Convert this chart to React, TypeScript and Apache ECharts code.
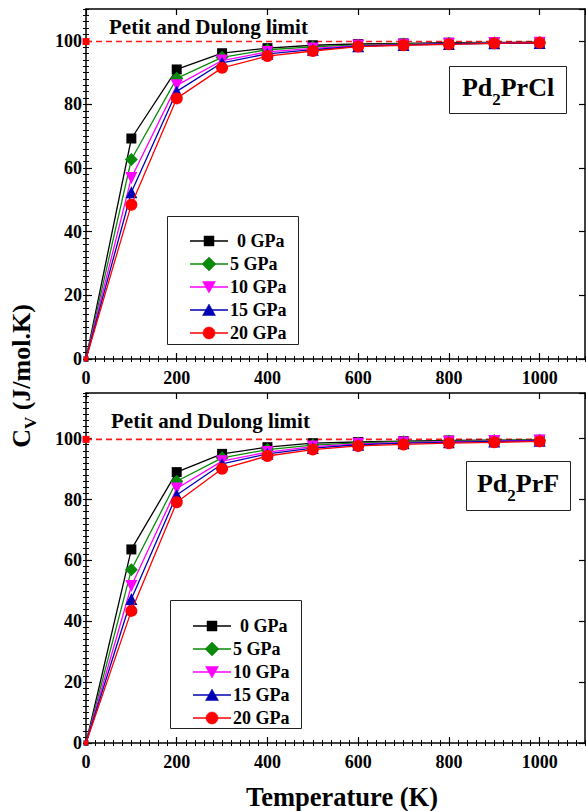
import React, { useEffect, useRef } from 'react';
import * as echarts from 'echarts';

// Temperatures (K)
const temperatures = [0, 100, 200, 300, 400, 500, 600, 700, 800, 900, 1000];
const pressures = ['0 GPa', '5 GPa', '10 GPa', '15 GPa', '20 GPa'];

// Pd2PrCl heat capacity Cv (J/mol.K)
const clP0 = [0, 69.3, 91.0, 96.1, 97.7, 98.6, 99.0, 99.2, 99.4, 99.5, 99.6];
const clP5 = [0, 62.7, 88.2, 94.8, 97.2, 98.1, 98.7, 99.0, 99.2, 99.4, 99.5];
const clP10 = [0, 56.9, 86.0, 93.8, 96.5, 97.6, 98.5, 98.8, 99.1, 99.3, 99.4];
const clP15 = [0, 52.4, 84.1, 93.1, 95.9, 97.2, 98.3, 98.7, 99.0, 99.2, 99.3];
const clP20 = [0, 48.5, 81.9, 91.5, 95.2, 96.8, 98.2, 98.6, 98.9, 99.2, 99.4];

// Pd2PrF heat capacity Cv (J/mol.K)
const fP0 = [0, 63.6, 89.0, 95.0, 97.2, 98.5, 98.9, 99.2, 99.4, 99.5, 99.6];
const fP5 = [0, 56.9, 86.0, 93.7, 96.4, 97.9, 98.6, 99.0, 99.2, 99.4, 99.5];
const fP10 = [0, 51.6, 83.6, 92.6, 95.6, 97.4, 98.3, 98.7, 99.0, 99.2, 99.4];
const fP15 = [0, 47.3, 81.5, 91.7, 95.0, 96.9, 98.0, 98.5, 98.8, 99.1, 99.3];
const fP20 = [0, 43.4, 79.1, 90.1, 94.3, 96.4, 97.6, 98.1, 98.5, 98.8, 99.1];

// Petit and Dulong limit (3nR)
const dulongPetit = 99.77;
const limitRange = [0, 1000];

const colors = ['#000000', '#0a8a0a', '#ff00ff', '#0000b4', '#ff0000'];
const symbols = ['rect', 'diamond', 'triangle', 'triangle', 'circle'];
const symbolRotates = [0, 0, 180, 0, 0];
const symbolSizes = [10, 13, 12, 12, 12];

const FONT = 'Liberation Serif';

function legendMarker(i: number, cx: number, cy: number): any {
  const c = colors[i];
  const st = { fill: c, stroke: c, lineWidth: 0.5 };
  if (i === 0) return { type: 'rect', shape: { x: cx - 5, y: cy - 5, width: 10, height: 10 }, style: st, z: 21 };
  if (i === 1)
    return {
      type: 'polygon',
      shape: { points: [[cx, cy - 7], [cx + 7, cy], [cx, cy + 7], [cx - 7, cy]] },
      style: st,
      z: 21,
    };
  if (i === 2)
    return {
      type: 'polygon',
      shape: { points: [[cx - 6.5, cy - 5.5], [cx + 6.5, cy - 5.5], [cx, cy + 6]] },
      style: st,
      z: 21,
    };
  if (i === 3)
    return {
      type: 'polygon',
      shape: { points: [[cx - 6.5, cy + 5.5], [cx + 6.5, cy + 5.5], [cx, cy - 6]] },
      style: st,
      z: 21,
    };
  return { type: 'circle', shape: { cx, cy, r: 6 }, style: st, z: 21 };
}

function buildLegend(box: { x: number; y: number; w: number; h: number }, firstRow: number, pitch: number, lineX: number) {
  const els: any[] = [
    {
      type: 'rect',
      shape: { x: box.x, y: box.y, width: box.w, height: box.h },
      style: { fill: '#fff', stroke: '#222', lineWidth: 1 },
      z: 19,
    },
  ];
  pressures.forEach((name, i) => {
    const cy = firstRow + i * pitch;
    els.push({
      type: 'line',
      shape: { x1: lineX, y1: cy, x2: lineX + 38, y2: cy },
      style: { stroke: colors[i], lineWidth: 1.3 },
      z: 20,
    });
    els.push(legendMarker(i, lineX + 19, cy));
    els.push({
      type: 'text',
      x: lineX + (name.startsWith('0') ? 47 : 40),
      y: cy,
      z: 21,
      style: {
        text: name,
        fontFamily: FONT,
        fontWeight: 'bold',
        fontSize: 18,
        fill: '#000',
        align: 'left',
        verticalAlign: 'middle',
      },
    });
  });
  return els;
}

function App() {
  const ref = useRef<HTMLDivElement>(null);

  useEffect(() => {
    if (!ref.current) return;
    const chart = echarts.init(ref.current, undefined, { renderer: 'svg' });

    const grids = [
      { left: 86, top: 9, width: 499, height: 350 },
      { left: 86, top: 393, width: 499, height: 350 },
    ];

    const xAxes: any[] = [];
    const yAxes: any[] = [];
    const yMaxes = [110, 115];
    grids.forEach((_, g) => {
      const common = {
        type: 'value',
        gridIndex: g,
        splitLine: { show: false },
        axisLine: { show: true, onZero: false, lineStyle: { color: '#000', width: 1.5 } },
      };
      ['bottom', 'top'].forEach((pos) => {
        xAxes.push({
          ...common,
          position: pos,
          min: 0,
          max: 1100,
          interval: 200,
          axisTick: { show: true, inside: true, length: 6, lineStyle: { color: '#000', width: 1.2 } },
          axisLabel: {
            show: pos === 'bottom',
            showMaxLabel: false,
            formatter: (v: number) => String(v),
            color: '#000',
            fontFamily: FONT,
            fontWeight: 'bold',
            fontSize: 18,
            margin: 10,
          },
        });
        xAxes.push({
          ...common,
          position: pos,
          min: 0,
          max: 1100,
          interval: 20,
          axisLine: { show: false },
          axisTick: { show: true, inside: true, length: 3, lineStyle: { color: '#000', width: 1 } },
          axisLabel: { show: false },
        });
      });
      ['left', 'right'].forEach((pos) => {
        yAxes.push({
          ...common,
          position: pos,
          min: 0,
          max: yMaxes[g],
          interval: 20,
          axisTick: { show: true, inside: true, length: 6, lineStyle: { color: '#000', width: 1.2 } },
          axisLabel: {
            show: pos === 'left',
            showMaxLabel: false,
            formatter: (v: number) => String(v),
            color: '#000',
            fontFamily: FONT,
            fontWeight: 'bold',
            fontSize: 18,
            margin: 4,
          },
        });
        yAxes.push({
          ...common,
          position: pos,
          min: 0,
          max: yMaxes[g],
          interval: 2,
          axisLine: { show: false },
          axisTick: { show: true, inside: true, length: 3, lineStyle: { color: '#000', width: 1 } },
          axisLabel: { show: false },
        });
      });
    });

    const datasets = [
      [clP0, clP5, clP10, clP15, clP20],
      [fP0, fP5, fP10, fP15, fP20],
    ];

    const series: any[] = [];
    datasets.forEach((sets, g) => {
      series.push({
        type: 'line',
        name: 'limit' + g,
        xAxisIndex: g * 4,
        yAxisIndex: g * 4,
        data: [
          { value: [limitRange[0], dulongPetit], symbol: 'rect', symbolSize: 7 },
          { value: [limitRange[1], dulongPetit], symbol: 'none' },
        ],
        lineStyle: { color: '#ff1a1a', width: 1.6, type: [6, 4] },
        itemStyle: { color: '#ff0000' },
        z: 1,
      });
      sets.forEach((vals, i) => {
        series.push({
          type: 'line',
          name: pressures[i],
          xAxisIndex: g * 4,
          yAxisIndex: g * 4,
          data: temperatures.map((t, k) =>
            k === 0 ? { value: [t, vals[k]], symbolSize: 5 } : [t, vals[k]]
          ),
          symbol: symbols[i],
          symbolSize: symbolSizes[i],
          symbolRotate: symbolRotates[i],
          lineStyle: { color: colors[i], width: 1.3 },
          itemStyle: { color: colors[i] },
          z: 2 + i,
        });
      });
    });

    const titleStyle = { fontFamily: FONT, fontWeight: 'bold', fill: '#000' };

    chart.setOption({
      animation: false,
      backgroundColor: '#fff',
      grid: grids,
      xAxis: xAxes,
      yAxis: yAxes,
      series,
      graphic: [
        ...buildLegend({ x: 167.5, y: 216.5, w: 131, h: 128 }, 241, 23, 190),
        ...buildLegend({ x: 170.5, y: 600.5, w: 131, h: 128 }, 626, 23, 193),
        {
          type: 'text',
          x: 109,
          y: 27,
          style: { ...titleStyle, text: 'Petit and Dulong limit', fontSize: 21, verticalAlign: 'middle', align: 'left' },
        },
        {
          type: 'text',
          x: 111,
          y: 421,
          style: { ...titleStyle, text: 'Petit and Dulong limit', fontSize: 21, verticalAlign: 'middle', align: 'left' },
        },
        {
          type: 'rect',
          shape: { x: 449.5, y: 66.5, width: 117, height: 47 },
          style: { fill: '#fff', stroke: '#222', lineWidth: 1 },
          z: 10,
        },
        {
          type: 'text',
          x: 508,
          y: 88,
          z: 11,
          style: {
            text: '{a|Pd}{b|2}{a|PrCl}',
            align: 'center',
            verticalAlign: 'middle',
            rich: {
              a: { ...titleStyle, fontSize: 26, lineHeight: 28, verticalAlign: 'top' },
              b: { ...titleStyle, fontSize: 17, lineHeight: 17, verticalAlign: 'top', padding: [17, 0, 0, 0] },
            },
          },
        },
        {
          type: 'rect',
          shape: { x: 466.5, y: 461.5, width: 104, height: 49 },
          style: { fill: '#fff', stroke: '#222', lineWidth: 1 },
          z: 10,
        },
        {
          type: 'text',
          x: 518,
          y: 484,
          z: 11,
          style: {
            text: '{a|Pd}{b|2}{a|PrF}',
            align: 'center',
            verticalAlign: 'middle',
            rich: {
              a: { ...titleStyle, fontSize: 26, lineHeight: 28, verticalAlign: 'top' },
              b: { ...titleStyle, fontSize: 17, lineHeight: 17, verticalAlign: 'top', padding: [17, 0, 0, 0] },
            },
          },
        },
        {
          type: 'text',
          x: 342,
          y: 797,
          style: { ...titleStyle, text: 'Temperature (K)', fontSize: 26.5, align: 'center', verticalAlign: 'middle' },
        },
        {
          type: 'text',
          x: 22,
          y: 376,
          rotation: Math.PI / 2,
          style: {
            text: '{c|C}{s|V}{c| (J/mol.K)}',
            align: 'center',
            verticalAlign: 'middle',
            rich: {
              c: { ...titleStyle, fontSize: 26, lineHeight: 28, verticalAlign: 'top' },
              s: { ...titleStyle, fontSize: 17, lineHeight: 17, verticalAlign: 'top', padding: [14, 0, 0, 0] },
            },
          },
        },
      ],
    });

    return () => {
      chart.dispose();
    };
  }, []);

  return (
    <div
      ref={ref}
      style={{ position: 'fixed', left: 0, top: 0, width: 586, height: 811, background: '#fff' }}
    />
  );
}

export default App;
